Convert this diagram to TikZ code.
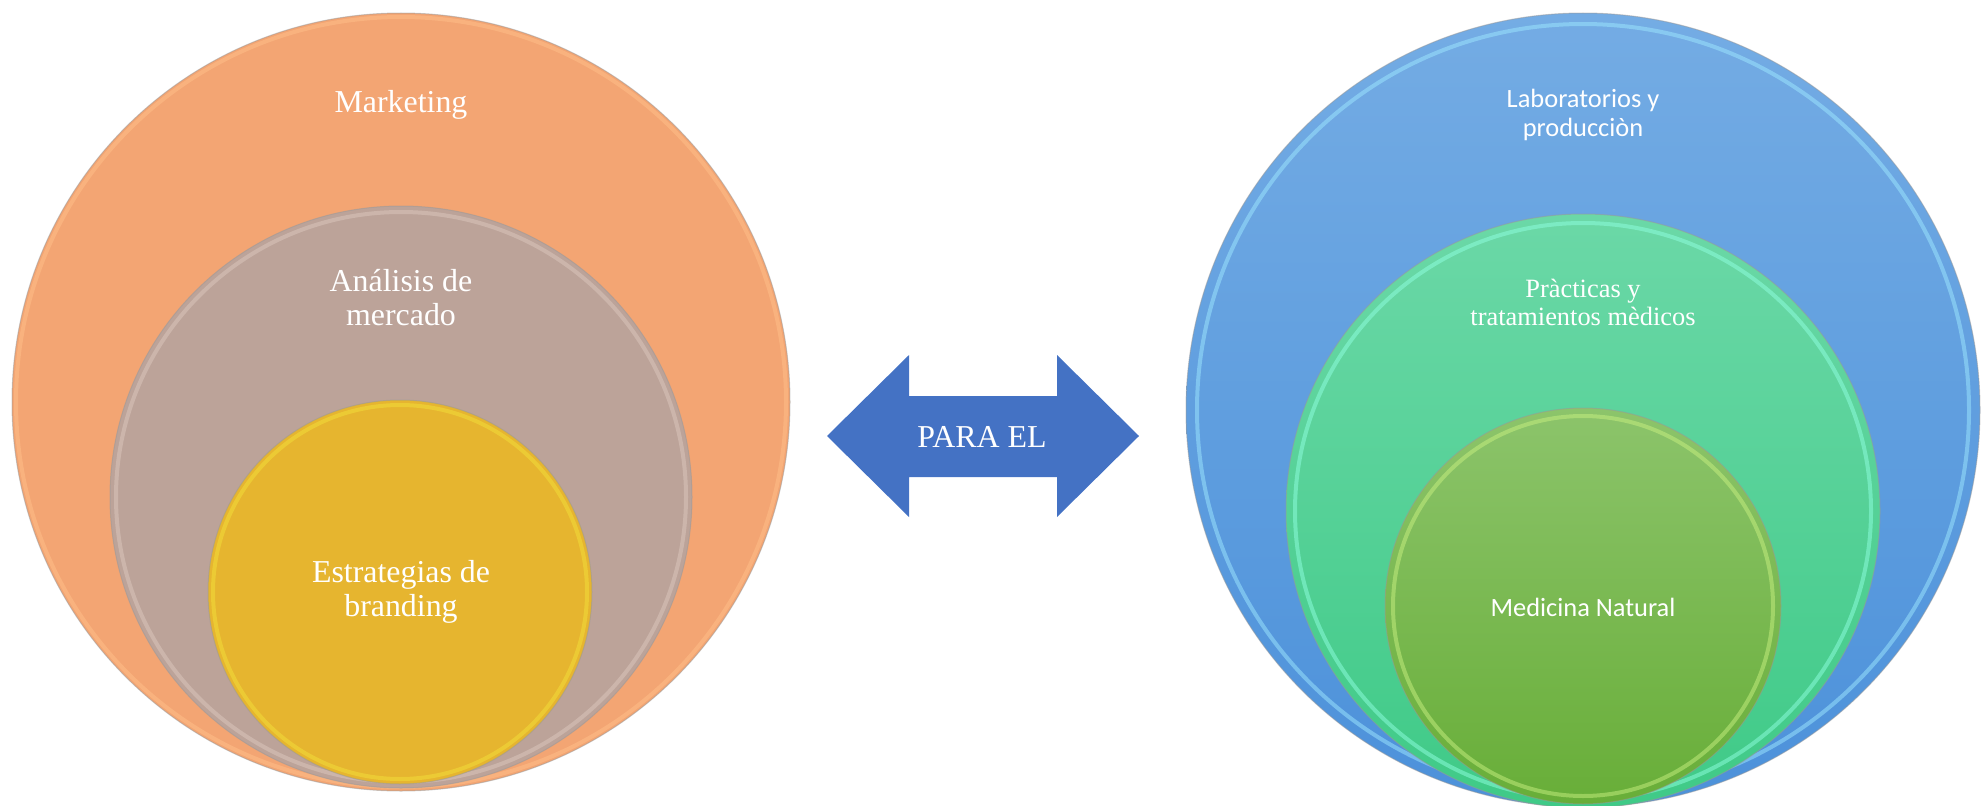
\documentclass[tikz,border=0pt]{standalone}
\usepackage{fontspec}
\setmainfont{Liberation Serif}
\newfontfamily\calib{Carlito}
\usepackage{tikz}
\usetikzlibrary{positioning,calc}
\usepackage{xcolor}
\definecolor{peach}{HTML}{F3A573}
\definecolor{peachrim}{HTML}{FFC08A}
\definecolor{taupe}{HTML}{BCA399}
\definecolor{tauperim}{HTML}{DCC8BE}
\definecolor{gold}{HTML}{E6B52F}
\definecolor{goldrim}{HTML}{F2E03A}
\definecolor{skytop}{HTML}{74ACE4}
\definecolor{skybot}{HTML}{4C91DA}
\definecolor{skyrim}{HTML}{9EE8FF}
\definecolor{minttop}{HTML}{6BD8A7}
\definecolor{mintbot}{HTML}{3FCA87}
\definecolor{mintrim}{HTML}{8FFFE0}
\definecolor{leaftop}{HTML}{8CC46B}
\definecolor{leafbot}{HTML}{68AE38}
\definecolor{leafrim}{HTML}{C8F080}
\definecolor{arrowblue}{HTML}{4472C4}

\begin{document}
\begin{tikzpicture}[x=1bp, y=-1bp,
  rim/.style={line width=4bp, opacity=0.5},
  edge/.style={line width=1bp, black!40, opacity=0.5},
  serif/.style={text=white, align=center, font=\fontsize{32}{34}\selectfont},
  sans/.style={text=white, align=center, font=\calib\fontsize{26.5}{30}\selectfont}]
  \useasboundingbox (0,0) rectangle (1988,806);
  % left circles
  \fill[peach] (401,402) circle (389);
  \draw[peachrim, rim] (401,402) circle (385);
  \draw[edge] (401,402) circle (389);
  \fill[taupe] (401,497) circle (291);
  \draw[tauperim, rim] (401,497) circle (285);
  \draw[edge] (401,497) circle (291);
  \fill[gold] (400,592) circle (192);
  \draw[goldrim, rim] (400,592) circle (187);
  \draw[edge] (400,592) circle (192);
  \node[serif] (mkt) at (401,105) {Marketing};
  \node[serif] (ana) at (401,298) {Análisis de\\mercado};
  \node[serif] (brand) at (401,592) {Estrategias de\\branding};
  % arrow
  \fill[arrowblue] (827,436) -- (909,355) -- (909,396) -- (1057,396) -- (1057,355)
    -- (1139,436) -- (1057,517) -- (1057,477) -- (909,477) -- (909,517) -- cycle;
  \node[serif] (para) at (982,437) {PARA EL};
  % right circles
  \shade[top color=skytop, bottom color=skybot] (1583,410) circle (397);
  \draw[skyrim, rim] (1583,410) circle (386);
  \draw[edge] (1583,410) circle (397);
  \shade[top color=minttop, bottom color=mintbot] (1583,511) circle (297);
  \draw[mintrim, rim] (1583,511) circle (288);
  \draw[edge] (1583,511) circle (297);
  \shade[top color=leaftop, bottom color=leafbot] (1583,606) circle (198);
  \draw[leafrim, rim] (1583,606) circle (190);
  \draw[edge] (1583,606) circle (198);
  \node[sans] (lab) at (1583,115) {Laboratorios y\\producciòn};
  \node[serif, font=\fontsize{26.5}{28}\selectfont] (prac) at (1583,302) {Pràcticas y\\tratamientos mèdicos};
  \node[sans] (med) at (1583,607) {Medicina Natural};
\end{tikzpicture}
\end{document}
